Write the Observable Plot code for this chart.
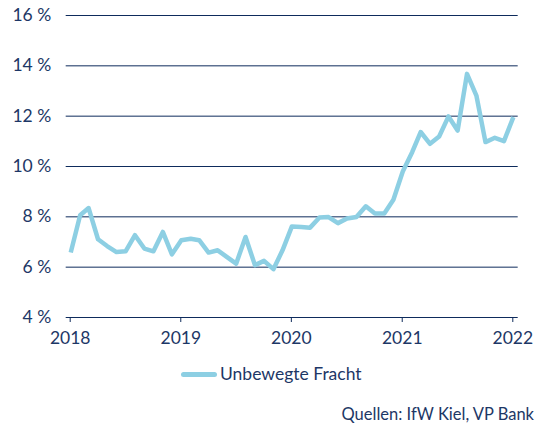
<!DOCTYPE html>
<html>
<head>
<meta charset="utf-8">
<script src="https://cdn.jsdelivr.net/npm/d3@7"></script>
<script src="https://cdn.jsdelivr.net/npm/@observablehq/plot@0.6"></script>
<style>
  html, body { margin: 0; padding: 0; background: #ffffff; }
  body { width: 538px; height: 427px; position: relative; overflow: hidden; font-family: Lato, "Open Sans", sans-serif; color: #1d3766; }
  #chart { position: absolute; left: 0; top: 0; }
  #legend { position: absolute; left: 181px; top: 363px; height: 22px; display: flex; align-items: center; font-size: 17.5px; line-height: 22px; }
  #legend .swatch { display: inline-block; width: 36px; height: 5px; border-radius: 2.5px; background: #8dcfe3; margin-right: 3px; }
  #caption { position: absolute; right: 4px; top: 404px; font-size: 16.5px; line-height: 20px; }
</style>
</head>
<body>
<div id="chart"></div>
<div id="legend"><span class="swatch"></span><span id="legend-label"></span></div>
<div id="caption"></div>
<script>
// ---- data ----
const seriesName = "Unbewegte Fracht";
const sourceText = "Quellen: IfW Kiel, VP Bank";
const startMonth = "2018-01";
const values2018 = [6.58, 8.06, 8.35, 7.11, 6.84, 6.60, 6.63, 7.27, 6.74, 6.63, 7.40, 6.51];
const values2019 = [7.07, 7.13, 7.07, 6.58, 6.67, 6.40, 6.14, 7.20, 6.08, 6.25, 5.92, 6.67];
const values2020 = [7.62, 7.60, 7.57, 7.97, 7.99, 7.75, 7.93, 7.99, 8.42, 8.13, 8.13, 8.68];
const values2021 = [9.80, 10.57, 11.37, 10.90, 11.19, 11.99, 11.43, 13.68, 12.82, 10.97, 11.14, 11.01];
const values2022 = [11.96];
const xTickYears = [2018, 2019, 2020, 2021, 2022];
const yTicks = [4, 6, 8, 10, 12, 14, 16];

// ---- build table ----
const allValues = [...values2018, ...values2019, ...values2020, ...values2021, ...values2022];
const start = d3.utcParse("%Y-%m")(startMonth);
const data = allValues.map((v, i) => ({
  date: d3.utcDay.offset(d3.utcMonth.offset(start, i), 15), // middle of month
  value: v
}));
const xStart = start;
const xEnd = d3.utcMonth.offset(start, allValues.length);
const tickDates = xTickYears.map(y => new Date(Date.UTC(y, 0, 1)));

const navy = "#0e2b5c";
const textColor = "#1d3766";
const lineColor = "#8dcfe3";

const chart = Plot.plot({
  width: 538,
  height: 352,
  marginLeft: 65.7,
  marginRight: 20.3,
  marginTop: 15,
  marginBottom: 35,
  style: { fontFamily: "Lato, 'Open Sans', sans-serif", fontSize: "17.5px", color: textColor, background: "#ffffff" },
  x: { type: "utc", domain: [xStart, xEnd] },
  y: { domain: [4, 16] },
  marks: [
    Plot.gridY(yTicks.filter(t => t > 4), { stroke: navy, strokeOpacity: 1, strokeWidth: 1 }),
    Plot.ruleY([4], { stroke: navy, strokeWidth: 1 }),
    Plot.axisX(tickDates, {
      tickFormat: d3.utcFormat("%Y"),
      tickSize: 5,
      tickPadding: 9,
      stroke: navy,
      fill: textColor,
      fontSize: 17.5,
      dx: 4,
      label: null
    }),
    Plot.axisY(yTicks, {
      tickFormat: d => d + " %",
      tickSize: 0,
      tickPadding: 15,
      fill: textColor,
      fontSize: 17.5,
      label: null
    }),
    Plot.line(data, {
      x: "date",
      y: "value",
      stroke: lineColor,
      strokeWidth: 4.5,
      strokeLinejoin: "round",
      strokeLinecap: "butt"
    })
  ]
});
document.getElementById("chart").appendChild(chart);
document.getElementById("legend-label").textContent = seriesName;
document.getElementById("caption").textContent = sourceText;
</script>
</body>
</html>
